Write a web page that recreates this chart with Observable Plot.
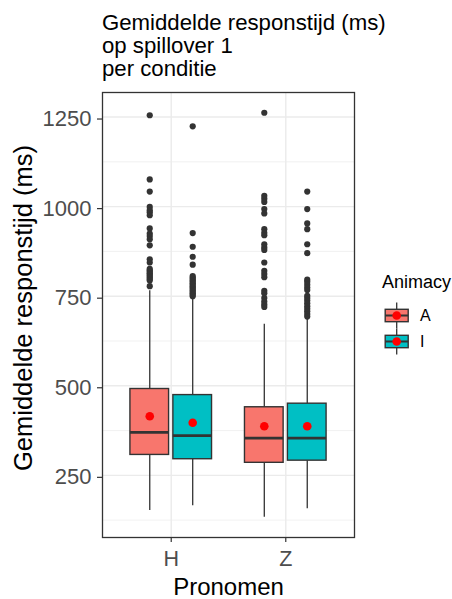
<!DOCTYPE html>
<html><head><meta charset="utf-8">
<script src="https://cdn.jsdelivr.net/npm/d3@7"></script>
<script src="https://cdn.jsdelivr.net/npm/@observablehq/plot@0.6"></script>
<style>
body{margin:0;background:#fff;font-family:"Liberation Sans",Arial,sans-serif;}
#wrap{position:relative;width:452px;height:599px;overflow:hidden;}
#chart{position:absolute;left:0;top:0;}
#title{position:absolute;left:102px;top:12px;font-size:22.2px;line-height:22.8px;color:#000;white-space:pre;}
#legend{position:absolute;left:370px;top:265px;}
</style></head><body>
<div id="wrap"><div id="chart"></div><div id="title"></div><div id="legend"></div></div>
<script>
// ---- data ----
const titleLines = ["Gemiddelde responstijd (ms)", "op spillover 1", "per conditie"];
const xLabel = "Pronomen";
const yLabel = "Gemiddelde responstijd (ms)";
const legendTitle = "Animacy";
const pronomen = ["H", "Z"];
const animacy = ["A", "I"];
const animacyColors = ["#F8766D", "#00BFC4"];
const yTicks = [250, 500, 750, 1000, 1250];
const yMinorTicks = [125, 375, 625, 875, 1125];

// box statistics, one entry per group: H-A, H-I, Z-A, Z-I
const groupPronomen = ["H", "H", "Z", "Z"];
const groupAnimacy = ["A", "I", "A", "I"];
const lowerWhisker = [152, 165, 133, 157];
const q1 = [307, 295, 285, 291];
const median = [370, 361, 354, 354];
const q3 = [491, 474, 440, 450];
const upperWhisker = [765, 742, 672, 686];
const meanValue = [415, 397, 387, 387];

const outliersHA = [1255, 1076, 1042, 999, 990, 984, 976, 939, 925, 918, 909, 892, 853, 844, 826, 822, 818, 814, 810, 806, 802, 798, 794, 778];
const outliersHI = [1224, 926, 888, 860, 838, 806, 802, 798, 794, 790, 786, 782, 778, 774, 770, 766, 762, 758, 754, 750];
const outliersZA = [1262, 1030, 1022, 1013, 993, 981, 937, 927, 920, 895, 886, 879, 844, 821, 812, 803, 765, 758, 745, 735, 727, 720];
const outliersZI = [1042, 993, 953, 937, 895, 870, 796, 790, 782, 774, 767, 751, 745, 738, 730, 722, 715, 708, 700, 693];

// ---- build tables ----
const groups = groupPronomen.map((p, i) => ({
  pronomen: p, animacy: groupAnimacy[i],
  lw: lowerWhisker[i], q1: q1[i], med: median[i], q3: q3[i], uw: upperWhisker[i], mean: meanValue[i]
}));
const outlierSets = [outliersHA, outliersHI, outliersZA, outliersZI];
const outliers = outlierSets.flatMap((vals, i) => vals.map(v => ({pronomen: groupPronomen[i], animacy: groupAnimacy[i], value: v})));

const dodge = 0.375, halfBox = 0.16875;
const xpos = d => pronomen.indexOf(d.pronomen) + 1 + (animacy.indexOf(d.animacy) - 0.5) * dodge;

const allY = [...lowerWhisker, ...upperWhisker, ...outliers.map(d => d.value)];
const [ymin, ymax] = d3.extent(allY);
const pad = (ymax - ymin) * 0.05;

const font = "Liberation Sans, Arial, sans-serif";
const chart = Plot.plot({
  width: 452, height: 599,
  marginTop: 92, marginBottom: 62, marginLeft: 102, marginRight: 98,
  style: {fontFamily: font, background: "transparent", overflow: "visible"},
  x: {type: "linear", domain: [0.4, 2.6]},
  y: {domain: [ymin - pad, ymax + pad]},
  color: {domain: animacy, range: animacyColors},
  marks: [
    Plot.gridY(yMinorTicks, {stroke: "#EBEBEB", strokeOpacity: 1, strokeWidth: 0.7}),
    Plot.gridY(yTicks, {stroke: "#EBEBEB", strokeOpacity: 1, strokeWidth: 1.4}),
    Plot.gridX([1, 2], {stroke: "#EBEBEB", strokeOpacity: 1, strokeWidth: 1.4}),
    Plot.ruleX(groups, {x: xpos, y1: "lw", y2: "q1", stroke: "#333333", strokeWidth: 1.3}),
    Plot.ruleX(groups, {x: xpos, y1: "q3", y2: "uw", stroke: "#333333", strokeWidth: 1.3}),
    Plot.rect(groups, {x1: d => xpos(d) - halfBox, x2: d => xpos(d) + halfBox, y1: "q1", y2: "q3", fill: "animacy", stroke: "#333333", strokeWidth: 1.4}),
    Plot.ruleY(groups, {x1: d => xpos(d) - halfBox, x2: d => xpos(d) + halfBox, y: "med", stroke: "#333333", strokeWidth: 2.7}),
    Plot.dot(outliers, {x: xpos, y: "value", r: 3.1, fill: "#333333", stroke: "none"}),
    Plot.dot(groups, {x: xpos, y: "mean", r: 4.3, fill: "#FF0000", stroke: "none"}),
    Plot.frame({stroke: "#333333", strokeWidth: 1.3}),
    Plot.axisY(yTicks, {tickSize: 5, tickPadding: 6, fontSize: 22, fill: "#4D4D4D", stroke: "#333333", strokeWidth: 1.2, dy: 2, tickFormat: d => String(d), label: null}),
    Plot.axisX([1, 2], {tickSize: 5, tickPadding: 8, fontSize: 21.5, fill: "#4D4D4D", stroke: "#333333", strokeWidth: 1.2, tickFormat: d => pronomen[d - 1], label: null}),
    Plot.text([xLabel], {frameAnchor: "bottom", dy: 57, lineAnchor: "bottom", fontSize: 24, fill: "#000"}),
    Plot.text([yLabel], {frameAnchor: "left", textAnchor: "middle", dx: -79, dy: -7, rotate: -90, fontSize: 25.5, fill: "#000"})
  ]
});
document.getElementById("chart").appendChild(chart);
document.getElementById("title").textContent = titleLines.join("\n");

// ---- legend ----
const lg = d3.select("#legend").append("svg").attr("width", 82).attr("height", 95).style("font-family", font);
lg.append("text").attr("x", 12).attr("y", 23.3).attr("font-size", 18).attr("fill", "#000").text(legendTitle);
animacy.forEach((a, i) => {
  const cy = 50.5 + i * 26, cx = 26.7;
  const g = lg.append("g");
  g.append("line").attr("x1", cx).attr("x2", cx).attr("y1", cy - 13).attr("y2", cy + 13).attr("stroke", "#333").attr("stroke-width", 1.3);
  g.append("rect").attr("x", cx - 11.5).attr("y", cy - 6.2).attr("width", 23).attr("height", 12.4).attr("fill", animacyColors[i]).attr("stroke", "#333").attr("stroke-width", 1.4);
  g.append("line").attr("x1", cx - 11.5).attr("x2", cx + 11.5).attr("y1", cy).attr("y2", cy).attr("stroke", "#333").attr("stroke-width", 2);
  g.append("circle").attr("cx", cx).attr("cy", cy).attr("r", 4.3).attr("fill", "#FF0000");
  lg.append("text").attr("x", 50).attr("y", cy + 5.5).attr("font-size", 16).attr("fill", "#000").text(a);
});
</script>
</body></html>
